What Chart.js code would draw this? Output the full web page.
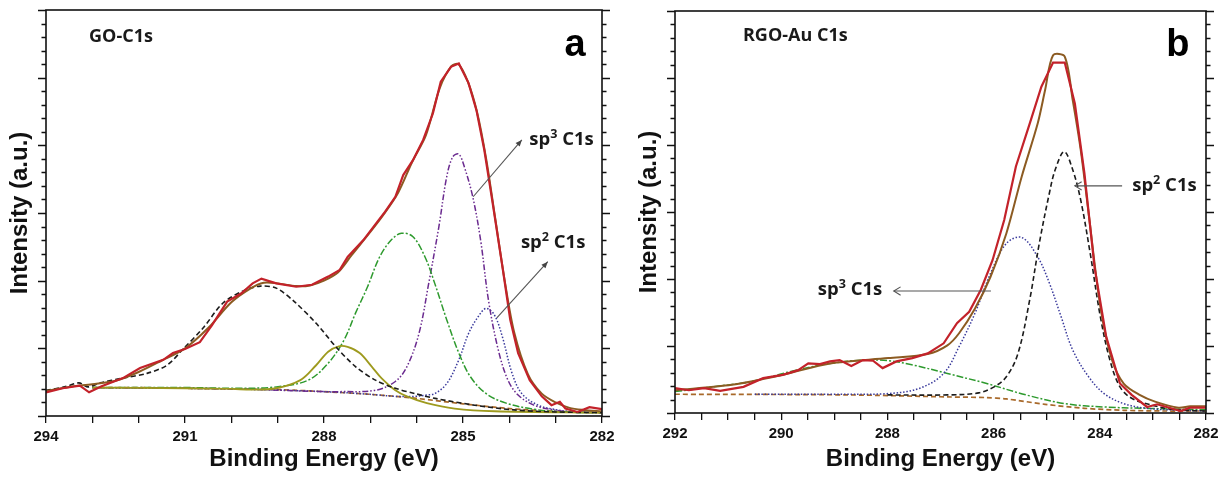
<!DOCTYPE html>
<html>
<head>
<meta charset="utf-8">
<script src="https://cdn.jsdelivr.net/npm/chart.js@4.4.0/dist/chart.umd.min.js"></script>
<style>
  html, body { margin: 0; padding: 0; background: #fff; }
  body { width: 1229px; height: 478px; position: relative; overflow: hidden; }
  canvas { position: absolute; top: 0; }
  #chartA { left: 0; }
  #chartB { left: 629px; }
</style>
</head>
<body>
<canvas id="chartA" width="614" height="478"></canvas>
<canvas id="chartB" width="600" height="478"></canvas>
<script>
// ---- panel a : GO-C1s  [binding energy (eV), intensity (a.u.)] ----
const goExp = [[294,0.35],[293.64,0.41],[293.27,0.45],[293.07,0.35],[292.8,0.44],[292.34,0.56],[291.97,0.71],[291.47,0.83],[291.26,0.93],[291.0,0.99],[290.68,1.09],[290.42,1.34],[290.09,1.69],[289.79,1.81],[289.54,1.96],[289.35,2.03],[289.03,1.96],[288.6,1.91],[288.26,1.94],[287.91,2.06],[287.66,2.16],[287.49,2.35],[287.15,2.6],[286.85,2.87],[286.68,3.02],[286.46,3.24],[286.29,3.56],[286.08,3.78],[285.86,4.08],[285.65,4.47],[285.48,4.94],[285.26,5.16],[285.09,5.21],[284.88,4.92],[284.71,4.52],[284.54,3.93],[284.37,3.19],[284.15,2.21],[283.98,1.42],[283.81,0.93],[283.56,0.53],[283.3,0.29],[283.09,0.16],[282.91,0.21],[282.79,0.11],[282.53,0.06],[282.27,0.13],[282.0,0.1]];
const goFit = [[294,0.37],[293.5,0.43],[293,0.47],[292.5,0.52],[292,0.65],[291.5,0.82],[291,1.0],[290.5,1.3],[290,1.68],[289.6,1.88],[289.3,1.97],[289,1.96],[288.6,1.92],[288.3,1.93],[288,2.0],[287.7,2.12],[287.4,2.38],[287,2.72],[286.7,2.99],[286.4,3.3],[286.1,3.75],[285.8,4.15],[285.5,4.85],[285.25,5.17],[285.1,5.2],[284.9,4.95],[284.7,4.5],[284.5,3.8],[284.3,2.9],[284.1,2.0],[283.9,1.25],[283.6,0.62],[283.3,0.33],[283,0.2],[282.7,0.12],[282.4,0.09],[282,0.07]];
const goCOOH = [[294,0.38],[293.6,0.43],[293.29,0.49],[293.09,0.43],[292.83,0.49],[292.34,0.56],[291.82,0.63],[291.39,0.75],[291.04,0.99],[290.61,1.3],[290.18,1.67],[289.71,1.86],[289.37,1.92],[289.03,1.89],[288.64,1.69],[288.17,1.37],[287.74,1.02],[287.32,0.73],[286.89,0.53],[286.46,0.41],[286.03,0.33],[285.6,0.26],[284.75,0.16],[283.9,0.09],[283,0.06],[282,0.05]];
const goCO = [[293,0.42],[291,0.41],[290,0.4],[289.54,0.39],[289.03,0.41],[288.51,0.53],[288.17,0.75],[287.91,0.95],[287.68,1.03],[287.49,1.02],[287.23,0.93],[286.97,0.73],[286.76,0.56],[286.46,0.38],[286.21,0.29],[285.78,0.19],[285.18,0.11],[284.32,0.07],[282,0.05]];
const goCOC = [[293,0.42],[291,0.42],[289.88,0.41],[289.03,0.43],[288.34,0.53],[287.91,0.78],[287.57,1.12],[287.32,1.52],[287.06,1.91],[286.8,2.35],[286.55,2.6],[286.33,2.7],[286.08,2.65],[285.82,2.35],[285.61,1.96],[285.35,1.42],[285.09,0.93],[284.84,0.58],[284.5,0.33],[284.07,0.19],[283.47,0.1],[282.87,0.06],[282,0.05]];
const goSp3 = [[293,0.42],[290,0.4],[288,0.36],[287.66,0.36],[286.89,0.38],[286.46,0.51],[286.21,0.73],[285.95,1.22],[285.74,1.96],[285.52,2.8],[285.35,3.54],[285.22,3.83],[285.09,3.87],[284.97,3.68],[284.79,3.24],[284.62,2.6],[284.45,1.71],[284.24,0.98],[284.03,0.53],[283.81,0.31],[283.47,0.16],[283.04,0.09],[282.62,0.06],[282,0.05]];
const goSp2 = [[293,0.42],[290,0.4],[288,0.36],[287,0.32],[286.46,0.29],[286.03,0.29],[285.78,0.31],[285.61,0.33],[285.35,0.48],[285.09,0.83],[284.88,1.22],[284.67,1.47],[284.5,1.59],[284.32,1.49],[284.15,1.17],[283.94,0.63],[283.73,0.33],[283.38,0.16],[283.04,0.1],[282.62,0.06],[282,0.05]];
const goBase = [[293,0.42],[292,0.42],[291,0.41],[290,0.4],[289,0.39],[288,0.36],[287,0.32],[286,0.26],[285,0.18],[284,0.11],[283,0.07],[282,0.05]];

// ---- panel b : RGO-Au C1s ----
const rgoExp = [[292,0.37],[291.74,0.34],[291.45,0.37],[291.15,0.33],[290.71,0.39],[290.34,0.52],[289.97,0.57],[289.68,0.64],[289.49,0.74],[289.27,0.73],[289.08,0.77],[288.9,0.79],[288.68,0.7],[288.46,0.79],[288.27,0.78],[288.09,0.67],[287.83,0.77],[287.53,0.82],[287.24,0.89],[286.94,1.04],[286.69,1.34],[286.46,1.51],[286.24,1.84],[286.02,2.28],[285.8,2.88],[285.58,3.68],[285.32,4.32],[285.1,4.87],[284.88,5.23],[284.66,5.23],[284.47,4.62],[284.29,3.58],[284.1,2.18],[283.88,1.14],[283.62,0.44],[283.4,0.27],[283.11,0.09],[282.92,0.13],[282.66,0.07],[282.48,0.03],[282.3,0.08],[282,0.08]];
const rgoFit = [[292,0.34],[290.93,0.42],[289.97,0.57],[289.08,0.74],[287.98,0.82],[287.24,0.88],[286.87,1.01],[286.65,1.19],[286.35,1.56],[286.06,2.03],[285.76,2.68],[285.47,3.53],[285.17,4.32],[285.03,4.82],[284.88,5.34],[284.66,5.32],[284.51,4.67],[284.36,3.93],[284.21,2.98],[283.99,1.59],[283.77,0.79],[283.55,0.44],[283.25,0.27],[282.96,0.17],[282.52,0.08],[282.3,0.1],[282,0.1]];
const rgoOx = [[292,0.32],[291.3,0.39],[290.56,0.47],[289.82,0.62],[289.08,0.74],[288.42,0.79],[287.98,0.78],[287.54,0.72],[286.87,0.59],[286.13,0.44],[285.39,0.27],[284.66,0.14],[283.92,0.09],[283.18,0.07],[282,0.05]];
const rgoSp3 = [[290.5,0.28],[289,0.28],[287.98,0.29],[287.39,0.37],[286.94,0.59],[286.65,0.99],[286.35,1.49],[286.06,2.08],[285.76,2.53],[285.47,2.62],[285.17,2.33],[284.95,1.94],[284.73,1.44],[284.51,0.94],[284.21,0.54],[283.92,0.29],[283.55,0.14],[283.11,0.07],[282.44,0.04],[282,0.03]];
const rgoSp2 = [[288,0.27],[286.87,0.27],[286.28,0.3],[285.99,0.39],[285.76,0.54],[285.54,0.89],[285.32,1.69],[285.14,2.53],[284.95,3.28],[284.84,3.63],[284.67,3.9],[284.51,3.63],[284.36,3.18],[284.18,2.38],[283.99,1.44],[283.81,0.79],[283.62,0.39],[283.4,0.22],[283.03,0.12],[282.59,0.05],[282,0.03]];
const rgoBase = [[292,0.28],[288.72,0.27],[286.87,0.24],[286.13,0.23],[285.76,0.21],[285.03,0.13],[284.29,0.07],[283.55,0.04],[282.81,0.03],[282,0.03]];

const FONT = "'Liberation Sans', Arial, sans-serif";
const NOTE_FONT = "'Open Sans', 'Noto Sans', sans-serif";

function pts(arr) {
  return arr.map(([x, y]) => ({ x, y }));
}

function line(data, color, width, dash, tension) {
  return {
    data: pts(data),
    borderColor: color,
    borderWidth: width,
    borderDash: dash || [],
    tension: tension || 0,
    pointRadius: 0,
    fill: false
  };
}

// frame round the plot plus the y ticks (minor / major) on both sides
const framePlugin = {
  id: 'frame',
  afterDatasetsDraw(chart) {
    const { ctx, chartArea: a, scales: { y } } = chart;
    ctx.save();
    ctx.strokeStyle = '#111';
    ctx.lineWidth = 1.6;
    ctx.strokeRect(a.left, a.top, a.right - a.left, a.bottom - a.top);
    ctx.lineWidth = 1.3;
    y.ticks.forEach((t) => {
      const major = Math.abs(t.value - Math.round(t.value)) < 1e-6;
      const len = major ? 8 : 4.5;
      const py = Math.round(y.getPixelForValue(t.value)) + 0.5;
      ctx.beginPath();
      ctx.moveTo(a.left - len, py);
      ctx.lineTo(a.left, py);
      ctx.moveTo(a.right, py);
      ctx.lineTo(a.right + len, py);
      ctx.stroke();
    });
    ctx.restore();
  }
};

function drawArrow(ctx, x1, y1, x2, y2, filled) {
  ctx.beginPath();
  ctx.moveTo(x1, y1);
  ctx.lineTo(x2, y2);
  ctx.stroke();
  const ang = Math.atan2(y2 - y1, x2 - x1);
  const L = filled ? 7 : 8;
  const W = filled ? 0.4 : 0.55;
  const p1 = [x2 - L * Math.cos(ang - W), y2 - L * Math.sin(ang - W)];
  const p2 = [x2 - L * Math.cos(ang + W), y2 - L * Math.sin(ang + W)];
  ctx.beginPath();
  if (filled) {
    ctx.moveTo(x2, y2);
    ctx.lineTo(p1[0], p1[1]);
    ctx.lineTo(p2[0], p2[1]);
    ctx.closePath();
    ctx.fill();
  } else {
    ctx.moveTo(p1[0], p1[1]);
    ctx.lineTo(x2, y2);
    ctx.lineTo(p2[0], p2[1]);
    ctx.stroke();
  }
}

// text labels, arrows and panel letter, placed in data units
const notesPlugin = {
  id: 'notes',
  afterDraw(chart, args, opts) {
    const { ctx, scales: { x, y } } = chart;
    ctx.save();
    ctx.fillStyle = '#1a1a1a';
    ctx.textBaseline = 'middle';
    ctx.textAlign = 'left';
    (opts.labels || []).forEach((l) => {
      let px = x.getPixelForValue(l.x);
      const py = y.getPixelForValue(l.y);
      l.parts.forEach(([txt, sup]) => {
        const size = sup ? l.size * 0.68 : l.size;
        ctx.font = `bold ${size}px ${NOTE_FONT}`;
        ctx.fillText(txt, px, sup ? py - l.size * 0.3 : py);
        px += ctx.measureText(txt).width;
      });
    });
    ctx.strokeStyle = '#555';
    ctx.fillStyle = '#444';
    ctx.lineWidth = 1.1;
    (opts.arrows || []).forEach((r) => {
      drawArrow(ctx, x.getPixelForValue(r.x1), y.getPixelForValue(r.y1),
        x.getPixelForValue(r.x2), y.getPixelForValue(r.y2), r.filled);
    });
    if (opts.letter) {
      ctx.fillStyle = '#000';
      ctx.font = `bold 38px ${FONT}`;
      ctx.textAlign = 'center';
      ctx.textBaseline = 'alphabetic';
      ctx.fillText(opts.letter.text, x.getPixelForValue(opts.letter.x), y.getPixelForValue(opts.letter.y));
    }
    ctx.restore();
  }
};

function makeOptions(xMin, xMax, step, every, axisH, padTop, padRight, notes) {
  return {
    responsive: false,
    animation: false,
    devicePixelRatio: 1,
    layout: { padding: { top: padTop, right: padRight, left: 0, bottom: 0 } },
    plugins: { legend: { display: false }, tooltip: { enabled: false }, notes },
    scales: {
      x: {
        type: 'linear',
        reverse: true,
        min: xMin,
        max: xMax,
        border: { display: false },
        grid: { drawOnChartArea: false, drawTicks: true, tickLength: 7, color: '#111', lineWidth: 1.3 },
        ticks: {
          stepSize: step,
          autoSkip: false,
          maxRotation: 0,
          padding: 5,
          color: '#111',
          font: { family: FONT, size: 15, weight: 'bold' },
          callback: (v) => (Math.abs(v % every) < 1e-6 ? String(v) : '')
        },
        title: {
          display: true,
          text: 'Binding Energy (eV)',
          color: '#111',
          font: { family: FONT, size: 24, weight: 'bold' },
          padding: { top: 0, bottom: 4 }
        },
        afterFit: (s) => { s.height = axisH; s.paddingLeft = 0; s.paddingRight = 0; }
      },
      y: {
        type: 'linear',
        min: 0,
        max: 6,
        border: { display: false },
        grid: { display: false },
        ticks: { display: false, stepSize: 0.2 },
        title: {
          display: true,
          text: 'Intensity (a.u.)',
          color: '#111',
          font: { family: FONT, size: 24, weight: 'bold' },
          padding: { top: 6, bottom: 0 }
        },
        afterFit: (s) => { s.width = 46; }
      }
    }
  };
}

const RED = '#c3222a';
const BROWN = '#8c5b22';
const BASE = '#a8692a';

new Chart(document.getElementById('chartA'), {
  type: 'line',
  data: {
    datasets: [
      line(goExp, RED, 2.2),
      line(goFit, BROWN, 2, null, 0.3),
      line(goCOOH, '#1b1b1b', 1.6, [5, 3], 0.3),
      line(goCO, '#9e9a1e', 1.8, null, 0.35),
      line(goCOC, '#2e9a2e', 1.5, [7, 2, 2, 2], 0.35),
      line(goSp3, '#6a2a8f', 1.5, [6, 2, 1.5, 2, 1.5, 2], 0.35),
      line(goSp2, '#3a3a9c', 1.5, [1.5, 1.8], 0.35),
      line(goBase, BASE, 1.7, [5, 3], 0.3)
    ]
  },
  options: makeOptions(282, 294, 1, 3, 62, 10, 12, {
    labels: [
      { x: 293.07, y: 5.6, size: 18, parts: [['GO-C1s', 0]] },
      { x: 283.57, y: 4.08, size: 18.5, parts: [['sp', 0], ['3', 1], [' C1s', 0]] },
      { x: 283.75, y: 2.56, size: 18.5, parts: [['sp', 0], ['2', 1], [' C1s', 0]] }
    ],
    arrows: [
      { x1: 284.78, y1: 3.24, x2: 283.73, y2: 4.08, filled: true },
      { x1: 284.27, y1: 1.45, x2: 283.17, y2: 2.28, filled: true }
    ],
    letter: { text: 'a', x: 282.58, y: 5.32 }
  }),
  plugins: [framePlugin, notesPlugin]
});

new Chart(document.getElementById('chartB'), {
  type: 'line',
  data: {
    datasets: [
      line(rgoExp, RED, 2.2),
      line(rgoFit, BROWN, 2, null, 0.3),
      line(rgoSp2, '#1b1b1b', 1.6, [5, 3], 0.35),
      line(rgoSp3, '#3a3a9c', 1.5, [1.5, 1.8], 0.35),
      line(rgoOx, '#2e9a2e', 1.5, [7, 2, 2, 2], 0.35),
      line(rgoBase, BASE, 1.7, [5, 3], 0.3)
    ]
  },
  options: makeOptions(282, 292, 0.5, 2, 65, 11, 23, {
    labels: [
      { x: 290.72, y: 5.63, size: 18, parts: [['RGO-Au C1s', 0]] },
      { x: 283.39, y: 3.39, size: 18.5, parts: [['sp', 0], ['2', 1], [' C1s', 0]] },
      { x: 289.31, y: 1.84, size: 18.5, parts: [['sp', 0], ['3', 1], [' C1s', 0]] }
    ],
    arrows: [
      { x1: 283.58, y1: 3.39, x2: 284.47, y2: 3.39, filled: false },
      { x1: 286.05, y1: 1.82, x2: 287.88, y2: 1.82, filled: false }
    ],
    letter: { text: 'b', x: 282.53, y: 5.33 }
  }),
  plugins: [framePlugin, notesPlugin]
});
</script>
</body>
</html>
